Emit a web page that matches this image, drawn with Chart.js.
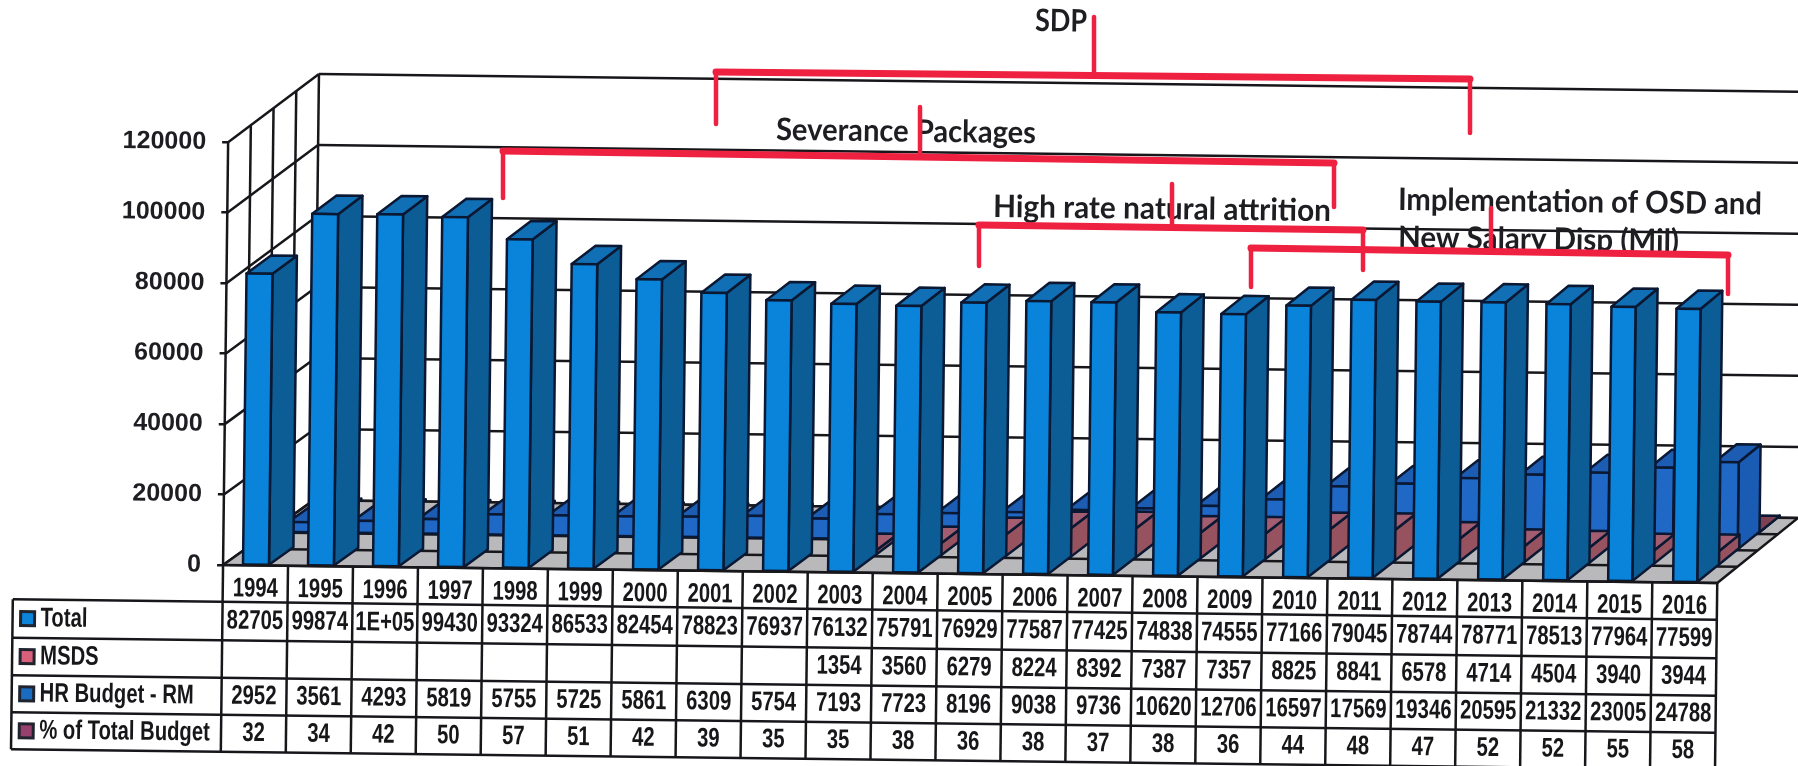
<!DOCTYPE html>
<html>
<head>
<meta charset="utf-8">
<title>Staff total and HR budget 1994-2016</title>
<style>
  html, body { margin: 0; padding: 0; background: #fff; overflow: hidden; }
  canvas { display: block; }
</style>
<script src="https://cdn.jsdelivr.net/npm/chart.js@4"></script>
</head>
<body>
<canvas id="staffChart" width="1798" height="766"></canvas>
<script>
const years = ['1994','1995','1996','1997','1998','1999','2000','2001','2002','2003','2004','2005','2006','2007','2008','2009','2010','2011','2012','2013','2014','2015','2016'];
const totalValues = [82705,99874,100000,99430,93324,86533,82454,78823,76937,76132,75791,76929,77587,77425,74838,74555,77166,79045,78744,78771,78513,77964,77599];
const msdsValues = [null,null,null,null,null,null,null,null,null,1354,3560,6279,8224,8392,7387,7357,8825,8841,6578,4714,4504,3940,3944];
const hrBudgetValues = [2952,3561,4293,5819,5755,5725,5861,6309,5754,7193,7723,8196,9038,9736,10620,12706,16597,17569,19346,20595,21332,23005,24788];
const pctValues = [32,34,42,50,57,51,42,39,35,35,38,36,38,37,38,36,44,48,47,52,52,55,58];

const seriesNames = ['Total', 'MSDS', 'HR Budget - RM', '% of Total Budget'];
const seriesValues = [totalValues, msdsValues, hrBudgetValues, pctValues];

// front, top and side shades of each column series, plus the table swatch
const seriesColors = [
    { front: '#0a84da', top: '#1170b5', side: '#0c5d96', swatch: '#0d84d8' },
    { front: '#9a5869', top: '#a25e70', side: '#96535f', swatch: '#d9607a' },
    { front: '#1f68c6', top: '#1c5cb2', side: '#1a5cb4', swatch: '#1a6cc0' },
    { front: '#8a4a5c', top: '#7d4152', side: '#6c3848', swatch: '#96406e' }
];

// callouts, in page pixels
const brackets = [
    [[716, 124], [716, 72], [1470, 79], [1470, 133]],
    [[1094, 17], [1094, 74]],
    [[503, 198], [503, 151], [1334, 163], [1334, 207]],
    [[920, 107], [920, 156]],
    [[979, 266], [979, 225], [1363, 230], [1363, 270]],
    [[1172, 184], [1172, 227]],
    [[1251, 287], [1251, 248], [1728, 255], [1728, 294]],
    [[1491, 208], [1491, 250]]
];
const callouts = [
    { text: 'SDP', x: 1035, y: 21, width: 52 },
    { text: 'Severance Packages', x: 776, y: 130, width: 260 },
    { text: 'High rate natural attrition', x: 993, y: 207, width: 338 },
    { text: 'Implementation of OSD and', x: 1398, y: 200, width: 364 },
    { text: 'New Salary Disp (Mil)', x: 1398, y: 238, width: 281 }
];

const TILT = 0.012;              // the whole sheet sits slightly rotated
const SLOT = 0.25;               // depth of one series row on the floor
const COLUMN_DEPTH = 0.27;
const LINE = '#17171b';
const EDGE = '#0a1833';

const tableLeft = 20;
const tableRows = [599, 637.5, 675, 712, 749];
const tableFont = 'bold 27px "Liberation Sans", Arial, sans-serif';
const NARROW = 0.75;             // table text is set condensed

// front-plane position plus depth (0 = front, 1 = back) to canvas position
function project(chart, x, y, depth) {
    const area = chart.chartArea;
    const base = area.bottom;
    const u = (x - area.left) / (area.right - area.left);
    return {
        x: x + depth * (90 - 10 * u),
        y: base + (y - base) * (1 + 0.008 * depth) - depth * 66
    };
}

function polygon(ctx, points, fill, stroke) {
    ctx.beginPath();
    points.forEach((p, i) => i ? ctx.lineTo(p.x, p.y) : ctx.moveTo(p.x, p.y));
    ctx.closePath();
    ctx.fillStyle = fill;
    ctx.fill();
    ctx.strokeStyle = stroke;
    ctx.stroke();
}

function segment(ctx, a, b) {
    ctx.beginPath();
    ctx.moveTo(a.x, a.y);
    ctx.lineTo(b.x, b.y);
    ctx.stroke();
}

function narrowText(ctx, text, x, y) {
    ctx.save();
    ctx.translate(x, y);
    ctx.scale(NARROW, 1);
    ctx.fillText(text, 0, 0);
    ctx.restore();
}

function drawWalls(chart) {
    const ctx = chart.ctx;
    const { left, right, top, bottom } = chart.chartArea;
    const yScale = chart.scales.y;
    ctx.strokeStyle = LINE;
    ctx.lineWidth = 2.5;

    yScale.ticks.forEach(tick => {
        const y = yScale.getPixelForValue(tick.value);
        segment(ctx, project(chart, left, y, 0), project(chart, left, y, 1));
        segment(ctx, project(chart, left, y, 1), project(chart, right, y, 1));
    });
    for (let d = 0; d <= 1; d += SLOT) {
        segment(ctx, project(chart, left, top, d), project(chart, left, bottom, d));
    }

    // floor with one strip per series
    polygon(ctx, [
        project(chart, left, bottom, 0), project(chart, right, bottom, 0),
        project(chart, right, bottom, 1), project(chart, left, bottom, 1)
    ], '#b9b9bb', LINE);
    for (let d = SLOT; d < 1; d += SLOT) {
        segment(ctx, project(chart, left, bottom, d), project(chart, right, bottom, d));
    }
}

function drawColumn(chart, el, depth, colors) {
    const ctx = chart.ctx;
    const area = chart.chartArea;
    const u = (el.x - area.left) / (area.right - area.left);
    const half = el.width * (1.04 - 0.08 * u) / 2;
    const x0 = el.x - half, x1 = el.x + half;
    const d0 = depth, d1 = depth + COLUMN_DEPTH;

    polygon(ctx, [
        project(chart, x1, el.y, d0), project(chart, x1, el.y, d1),
        project(chart, x1, el.base, d1), project(chart, x1, el.base, d0)
    ], colors.side, EDGE);
    polygon(ctx, [
        project(chart, x0, el.y, d0), project(chart, x1, el.y, d0),
        project(chart, x1, el.y, d1), project(chart, x0, el.y, d1)
    ], colors.top, EDGE);
    polygon(ctx, [
        project(chart, x0, el.y, d0), project(chart, x1, el.y, d0),
        project(chart, x1, el.base, d0), project(chart, x0, el.base, d0)
    ], colors.front, EDGE);
}

function drawTable(chart) {
    const ctx = chart.ctx;
    const { left, right, bottom } = chart.chartArea;
    const xScale = chart.scales.x;
    const colWidth = (right - left) / years.length;

    ctx.strokeStyle = LINE;
    ctx.lineWidth = 2.5;
    segment(ctx, { x: left, y: bottom }, { x: right, y: bottom });
    tableRows.forEach(y => segment(ctx, { x: tableLeft, y }, { x: right, y }));
    segment(ctx, { x: tableLeft, y: tableRows[0] }, { x: tableLeft, y: tableRows[4] });
    for (let i = 0; i <= years.length; i++) {
        const x = left + i * colWidth;
        segment(ctx, { x, y: bottom }, { x, y: tableRows[4] });
    }

    ctx.font = tableFont;
    ctx.fillStyle = '#17171a';
    ctx.textBaseline = 'middle';
    ctx.textAlign = 'center';
    years.forEach((year, i) => {
        const x = xScale.getPixelForValue(i);
        narrowText(ctx, year, x, 586);
        seriesValues.forEach((values, row) => {
            const v = values[i];
            if (v === null) return;
            const label = v >= 100000 ? '1E+05' : String(v);
            narrowText(ctx, label, x, (tableRows[row] + tableRows[row + 1]) / 2);
        });
    });

    // series names and swatches in the left column
    ctx.textAlign = 'left';
    seriesNames.forEach((name, row) => {
        const mid = (tableRows[row] + tableRows[row + 1]) / 2;
        ctx.fillStyle = seriesColors[row].swatch;
        ctx.strokeStyle = '#20242e';
        ctx.lineWidth = 3;
        ctx.beginPath();
        ctx.rect(tableLeft + 8, mid - 7, 14, 14);
        ctx.fill();
        ctx.stroke();
        ctx.fillStyle = '#17171a';
        narrowText(ctx, name, tableLeft + 28, mid);
    });
}

function drawCallouts(chart) {
    const ctx = chart.ctx;
    ctx.font = 'bold 31px Lato, "Open Sans", sans-serif';
    ctx.fillStyle = '#1d1d22';
    ctx.textAlign = 'left';
    ctx.textBaseline = 'middle';
    callouts.forEach(c => {
        ctx.save();
        ctx.translate(c.x, c.y);
        ctx.rotate(TILT);
        ctx.fillText(c.text, 0, 0, c.width);
        ctx.restore();
    });

    // long runs of the brackets are heavier than the drops
    ctx.strokeStyle = '#ee2140';
    ctx.lineCap = 'round';
    brackets.forEach(path => {
        for (let i = 1; i < path.length; i++) {
            const a = path[i - 1], b = path[i];
            ctx.lineWidth = Math.abs(b[0] - a[0]) > Math.abs(b[1] - a[1]) ? 7 : 4.5;
            ctx.beginPath();
            ctx.moveTo(a[0], a[1]);
            ctx.lineTo(b[0], b[1]);
            ctx.stroke();
        }
    });
}

const sceneryPlugin = {
    id: 'scenery',
    beforeDraw(chart) {
        chart.ctx.save();
        chart.ctx.transform(1, TILT, -TILT, 1, 0, 0);
    },
    afterDatasetsDraw(chart) {
        const ctx = chart.ctx;
        ctx.save();
        ctx.lineJoin = 'round';
        drawWalls(chart);
        ctx.lineWidth = 2.5;
        // back row first, left to right, so nearer columns cover farther ones
        for (let s = seriesValues.length - 1; s >= 0; s--) {
            chart.getDatasetMeta(s).data.forEach((el, i) => {
                if (seriesValues[s][i] === null) return;
                drawColumn(chart, el, s * SLOT + 0.005, seriesColors[s]);
            });
        }
        ctx.restore();
    },
    afterDraw(chart) {
        const ctx = chart.ctx;
        ctx.save();
        drawTable(chart);
        ctx.restore();
        ctx.restore();
        ctx.save();
        drawCallouts(chart);
        ctx.restore();
    }
};

new Chart(document.getElementById('staffChart'), {
    type: 'bar',
    data: {
        labels: years,
        datasets: seriesNames.map((name, s) => ({
            label: name,
            data: seriesValues[s],
            backgroundColor: 'rgba(0,0,0,0)',
            borderWidth: 0,
            grouped: false,
            barThickness: 25
        }))
    },
    options: {
        responsive: false,
        animation: false,
        layout: { padding: { left: 0, right: 74, top: 139.5, bottom: 203.7 } },
        plugins: { legend: { display: false }, tooltip: { enabled: false } },
        scales: {
            x: { display: false },
            y: {
                min: 0,
                max: 120000,
                afterFit: axis => { axis.width = 229.8; },
                border: { display: false },
                grid: { drawOnChartArea: false, drawTicks: true, tickLength: 6, tickColor: LINE, tickWidth: 2.5 },
                ticks: {
                    stepSize: 20000,
                    padding: 16,
                    color: '#1d1d22',
                    callback: value => String(value),
                    font: { family: '"Liberation Sans", Arial, sans-serif', size: 25, weight: 'bold' }
                }
            }
        }
    },
    plugins: [sceneryPlugin]
});
</script>
</body>
</html>
